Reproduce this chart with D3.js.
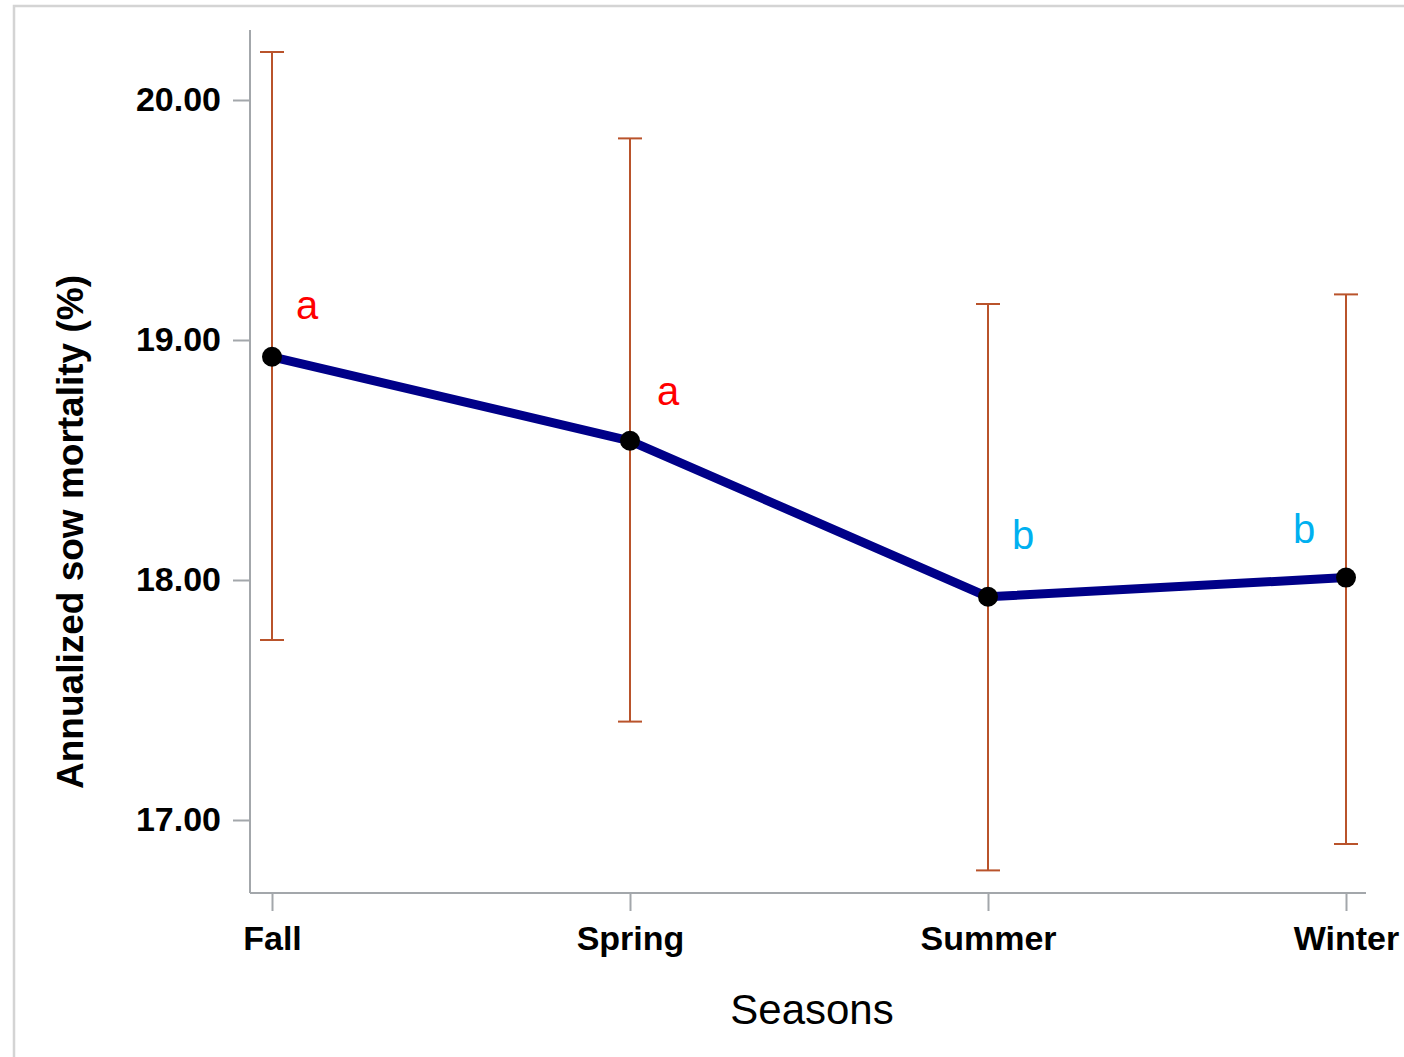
<!DOCTYPE html>
<html>
<head>
<meta charset="utf-8">
<script src="https://cdn.jsdelivr.net/npm/d3@7"></script>
<style>
  html, body { margin: 0; padding: 0; background: #fff; }
  svg { display: block; }
  text { font-family: "Liberation Sans", Arial, sans-serif; }
</style>
</head>
<body>
<svg id="chart" width="1404" height="1057"></svg>
<script>
// Seasonal annualized sow mortality: least-squares means with 95% confidence limits
const seasons = ["Fall", "Spring", "Summer", "Winter"];
const meanValues = [18.93, 18.58, 17.93, 18.01];
const upperLimits = [20.20, 19.84, 19.15, 19.19];
const lowerLimits = [17.75, 17.41, 16.79, 16.90];
const groupLetters = ["a", "a", "b", "b"];
const yTickValues = [17, 18, 19, 20];

const svg = d3.select("#chart");

// Light frame around the plot area
svg.append("path")
  .attr("d", "M14,1057 V6 H1404")
  .attr("fill", "none")
  .attr("stroke", "#d4d4d4")
  .attr("stroke-width", 2.5);

const axisX0 = 250, axisX1 = 1366, axisY0 = 30, axisY1 = 893;

const x = d3.scalePoint().domain(seasons).range([272, 1346]);
const y = d3.scaleLinear().domain([17, 20]).range([820, 100]);

const axisColor = "#a3a7ab";

// Y axis
const yAxis = svg.append("g")
  .attr("transform", `translate(${axisX0},0)`)
  .call(d3.axisLeft(y).tickValues(yTickValues).tickFormat(d3.format(".2f")).tickSize(17).tickPadding(12));
yAxis.select(".domain").remove();
yAxis.append("line")
  .attr("x1", 0).attr("x2", 0).attr("y1", axisY0).attr("y2", axisY1)
  .attr("stroke", axisColor).attr("stroke-width", 2);
yAxis.selectAll(".tick line").attr("stroke", axisColor).attr("stroke-width", 2);
yAxis.selectAll(".tick text")
  .attr("fill", "#000")
  .style("font-size", "34px")
  .style("font-weight", "bold");

// X axis
const xAxis = svg.append("g")
  .attr("transform", `translate(0,${axisY1})`)
  .call(d3.axisBottom(x).tickSize(18).tickPadding(15));
xAxis.select(".domain").remove();
xAxis.append("line")
  .attr("x1", axisX0).attr("x2", axisX1).attr("y1", 0).attr("y2", 0)
  .attr("stroke", axisColor).attr("stroke-width", 2);
xAxis.selectAll(".tick line").attr("stroke", axisColor).attr("stroke-width", 2);
xAxis.selectAll(".tick text")
  .attr("fill", "#000")
  .style("font-size", "34px")
  .style("font-weight", "bold");

// Axis titles
svg.append("text")
  .attr("transform", "translate(83,532) rotate(-90)")
  .attr("text-anchor", "middle")
  .style("font-size", "37px")
  .style("font-weight", "bold")
  .attr("fill", "#000")
  .text("Annualized sow mortality (%)");

svg.append("text")
  .attr("x", 812).attr("y", 1024)
  .attr("text-anchor", "middle")
  .style("font-size", "42px")
  .attr("fill", "#000")
  .text("Seasons");

const rows = seasons.map((s, i) => ({
  season: s, mean: meanValues[i], hi: upperLimits[i], lo: lowerLimits[i], letter: groupLetters[i]
}));

// Confidence-limit bars
const errColor = "#b9532b";
const bars = svg.append("g");
rows.forEach(d => {
  const cx = x(d.season);
  bars.append("line")
    .attr("x1", cx).attr("x2", cx).attr("y1", y(d.hi)).attr("y2", y(d.lo))
    .attr("stroke", errColor).attr("stroke-width", 2);
  [d.hi, d.lo].forEach(v => {
    bars.append("line")
      .attr("x1", cx - 12).attr("x2", cx + 12).attr("y1", y(v)).attr("y2", y(v))
      .attr("stroke", errColor).attr("stroke-width", 2);
  });
});

// Mean line and markers
svg.append("path")
  .datum(rows)
  .attr("fill", "none")
  .attr("stroke", "#000088")
  .attr("stroke-width", 9)
  .attr("stroke-linejoin", "round")
  .attr("d", d3.line().x(d => x(d.season)).y(d => y(d.mean)));

svg.append("g").selectAll("circle")
  .data(rows)
  .join("circle")
  .attr("cx", d => x(d.season))
  .attr("cy", d => y(d.mean))
  .attr("r", 10)
  .attr("fill", "#000");

// Significance group letters
const letterColor = { a: "#ff0000", b: "#00b0f0" };
const letterOffset = [[35, -38], [38, -36], [35, -48], [-42, -35]];
svg.append("g").selectAll("text")
  .data(rows)
  .join("text")
  .attr("x", (d, i) => x(d.season) + letterOffset[i][0])
  .attr("y", (d, i) => y(d.mean) + letterOffset[i][1])
  .attr("text-anchor", "middle")
  .style("font-size", "40px")
  .attr("fill", d => letterColor[d.letter])
  .text(d => d.letter);
</script>
</body>
</html>
